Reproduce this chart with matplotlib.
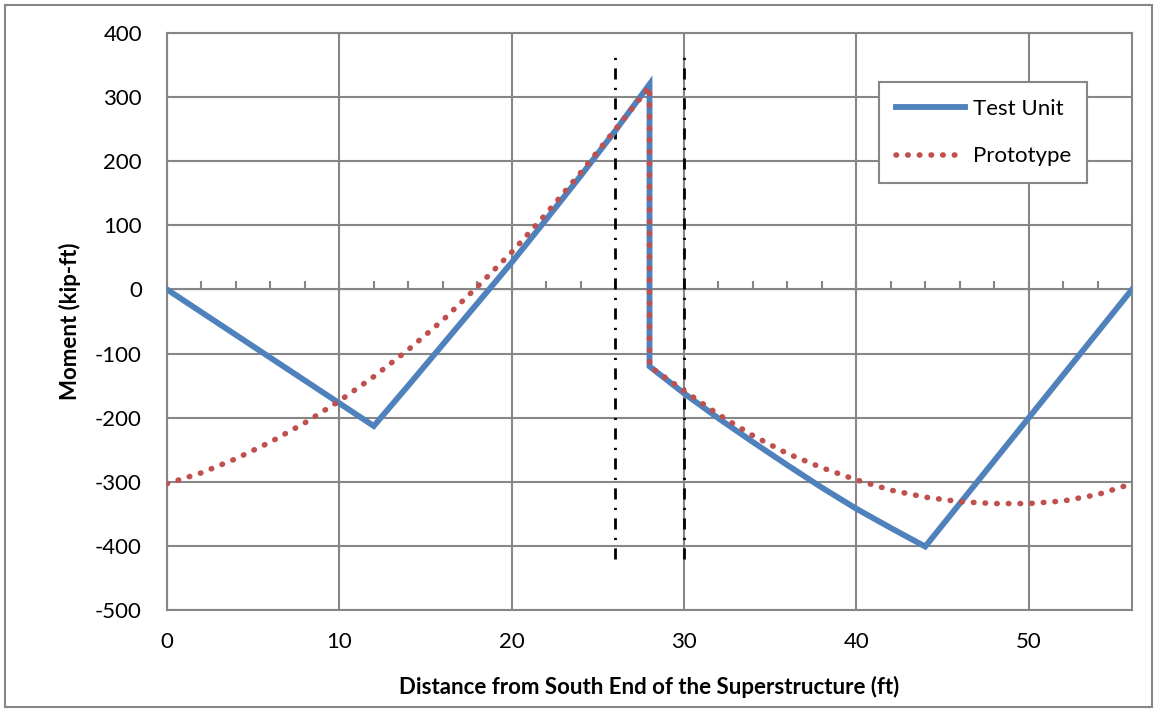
import matplotlib.pyplot as plt
from matplotlib.patches import Rectangle
from matplotlib.ticker import MultipleLocator, NullFormatter

plt.rcParams['font.family'] = ['Lato', 'DejaVu Sans']
plt.rcParams['axes.unicode_minus'] = False

# Test unit moment diagram (kip-ft)
test_x = [0, 12, 14, 16, 18, 20, 22, 24, 26, 28,
          28, 30, 32, 34, 36, 38, 40, 42, 44, 56]
test_m = [0, -213, -150, -86, -22, 42, 109, 177, 247, 320,
          -120, -162, -201, -238, -274, -309, -342, -372, -401, 0]

# Prototype moment diagram (kip-ft)
proto_x = [0, 2, 4, 6, 8, 10, 12, 14, 16, 18, 20, 22, 24, 26, 28,
           28, 30, 32, 34, 36, 38, 40, 42, 44, 46, 48, 50, 52, 54, 56]
proto_m = [-303, -286, -264, -238, -208, -174, -136, -94, -48, 4, 58, 118, 182, 249, 316,
           -120, -158, -195, -228, -256, -278, -297, -313, -324, -331, -334, -334, -330, -320, -303]

# section boundaries (ft) and their vertical extent
bound_x = [26, 30]
bound_y = [-420, 375]

grey = '#868686'
blue = '#4F81BD'
red = '#C0504D'

fig = plt.figure(figsize=(11.56, 7.09), dpi=100)
ax = fig.add_axes([167 / 1156, 1 - 610 / 709, 965 / 1156, 577 / 709])

ax.plot(test_x, test_m, color=blue, lw=4.2, label='Test Unit', solid_joinstyle='miter', zorder=4)
ax.plot(proto_x, proto_m, color=red, lw=4.0, linestyle=(0, (0.1, 2.0)),
        dash_capstyle='round', label='Prototype', zorder=5)
for bx in bound_x:
    ax.plot([bx, bx], bound_y, color='black', lw=2.0,
            linestyle=(0, (4.0, 3.0, 0.8, 3.0)), zorder=3)

ax.set_xlim(0, 56)
ax.set_ylim(-500, 400)
ax.xaxis.set_major_locator(MultipleLocator(10))
ax.yaxis.set_major_locator(MultipleLocator(100))
ax.grid(True, color=grey, lw=1.5)
ax.set_axisbelow(True)
ax.tick_params(length=0, labelsize=16)
ax.tick_params(axis='x', pad=16)
ax.tick_params(axis='y', pad=18)
for s in ax.spines.values():
    s.set_color(grey)
    s.set_linewidth(1.5)

# axis line through zero with minor tick marks
sec = ax.secondary_xaxis(5 / 9)
sec.xaxis.set_major_locator(MultipleLocator(2))
sec.xaxis.set_major_formatter(NullFormatter())
sec.tick_params(direction='out', length=6, width=1.5, color=grey)
sec.spines['bottom'].set_color(grey)
sec.spines['bottom'].set_linewidth(1.5)

ax.set_xlabel('Distance from South End of the Superstructure (ft)', fontsize=16,
              fontweight='bold', labelpad=17)
ax.set_ylabel('Moment (kip-ft)', fontsize=16, fontweight='bold', labelpad=10)

leg = ax.legend(loc='upper left', bbox_to_anchor=(0.738, 0.915), fontsize=16,
                frameon=True, fancybox=False, handlelength=3.1, handletextpad=0.35,
                labelspacing=1.25, borderpad=0.75, borderaxespad=0)
leg.get_frame().set_edgecolor(grey)
leg.get_frame().set_linewidth(1.5)
leg.get_frame().set_alpha(1)

fig.add_artist(Rectangle((5 / 1156, 2 / 709), 1147 / 1156, 702 / 709,
                         transform=fig.transFigure, fill=False, edgecolor=grey, lw=1.5))

fig.savefig('out.png', dpi=100)
